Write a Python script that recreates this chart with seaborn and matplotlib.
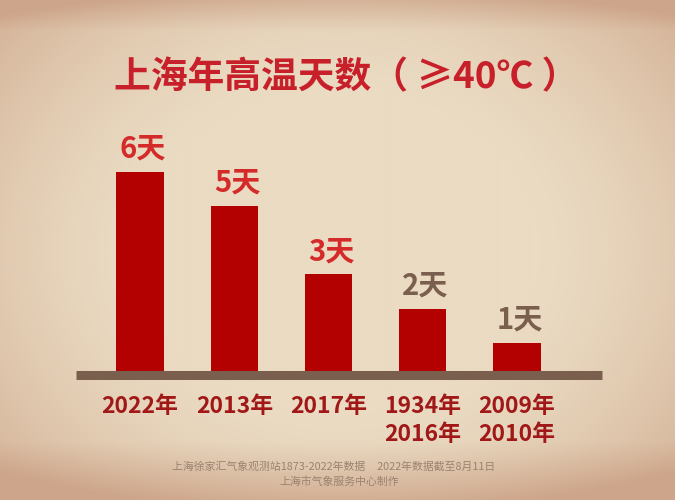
import numpy as np
import pandas as pd
import matplotlib
matplotlib.use("Agg")
import matplotlib.pyplot as plt
import seaborn as sns

# ---- data ----
years = ["2022年", "2013年", "2017年", "1934年\n2016年", "2009年\n2010年"]
days = [6, 5, 3, 2, 1]
value_labels = ["6天", "5天", "3天", "2天", "1天"]
label_colors = ["#d42a2a", "#d42a2a", "#d42a2a", "#7a5e4e", "#7a5e4e"]
title = "上海年高温天数（ ≥40℃ ）"
footer1 = "上海徐家汇气象观测站1873-2022年数据     2022年数据截至8月11日"
footer2 = "上海市气象服务中心制作"

df = pd.DataFrame({"year": years, "days": days})

sns.set_theme(style="white")
plt.rcParams['font.family'] = ['Noto Sans CJK SC', 'DejaVu Sans']

fig = plt.figure(figsize=(6.75, 5.0), dpi=100)

# paper-like background with soft vignette
bg = fig.add_axes([0, 0, 1, 1], zorder=-10)
h, w = 250, 338
yy, xx = np.mgrid[0:h, 0:w]
r = np.sqrt(((xx - w / 2) / (w / 2)) ** 2 + ((yy - h * 0.5) / (h * 0.55)) ** 2)
t = np.clip((r - 0.6) / 0.9, 0, 1) ** 1.4
tb = np.clip((yy / h - 0.88) / 0.12, 0, 1) * 0.6      # darker bottom strip
tt = np.clip((0.06 - yy / h) / 0.06, 0, 1) * 0.5      # reddish top strip
t = np.clip(t + tb + tt, 0, 1)
center = np.array([234, 219, 194]) / 255
edge = np.array([205, 165, 138]) / 255
img = center[None, None, :] * (1 - t[..., None]) + edge[None, None, :] * t[..., None]
bg.imshow(img, aspect="auto", extent=[0, 1, 0, 1], origin="upper")
bg.set_axis_off()

ax = fig.add_axes([0.1126, 0.246, 0.7793, 0.5472])
ax.patch.set_alpha(0)
sns.barplot(data=df, x="year", y="days", order=years, color="#b30000",
            saturation=1, width=0.5, ax=ax, zorder=2, linewidth=0,
            edgecolor="none")
ax.set_xlim(-0.679, 4.902)
ax.set_ylim(0, 8)
ax.axhline(0.07, color="#7a5e4e", lw=6.5, zorder=3, solid_capstyle="butt",
           clip_on=False)

for i, (v, lab, c) in enumerate(zip(days, value_labels, label_colors)):
    ax.annotate(lab, (i, v), xytext=(2, 6), textcoords="offset points",
                ha="center", va="bottom", fontsize=21, fontweight="bold",
                color=c)

ax.set_xlabel("")
ax.set_ylabel("")
ax.set_yticks([])
ax.tick_params(axis="x", length=0, pad=13)
for tl in ax.get_xticklabels():
    tl.set_fontsize(16.5)
    tl.set_fontweight("bold")
    tl.set_color("#a01818")
    tl.set_va("top")
    tl.set_linespacing(1.3)
for s in ax.spines.values():
    s.set_visible(False)

fig.text(0.513, 0.844, title, ha="center", va="center", fontsize=26.5,
         fontweight="bold", color="#c8202a")
fig.text(0.495, 0.068, footer1, ha="center", va="center", fontsize=7.8,
         color="#9a8270")
fig.text(0.503, 0.036, footer2, ha="center", va="center", fontsize=7.8,
         color="#9a8270")

fig.savefig("out.png", dpi=100)
